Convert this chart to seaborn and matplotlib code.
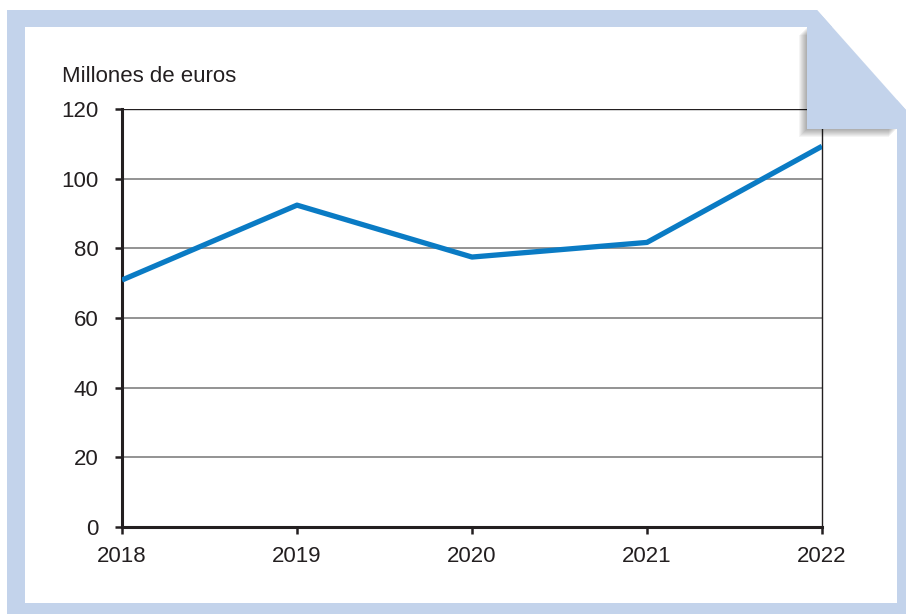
import pandas as pd
import matplotlib
matplotlib.use("Agg")
import matplotlib.pyplot as plt
import seaborn as sns
from matplotlib.patches import Polygon

# data
years = [2018, 2019, 2020, 2021, 2022]
values = [70.9, 92.4, 77.5, 81.7, 109.3]
yticks = [0, 20, 40, 60, 80, 100, 120]
ylabel = "Millones de euros"

data = pd.DataFrame({"year": years, "value": values})

sns.set_style("white")
plt.rcParams['font.family'] = ['Liberation Sans', 'DejaVu Sans']

W, H = 906, 614
fig = plt.figure(figsize=(W / 100, H / 100), dpi=100)
fig.patch.set_facecolor("white")

def px(x, y):
    return (x / W, 1 - y / H)

ax = fig.add_axes([122 / W, 1 - 527 / H, 700 / W, 418 / H])
sns.lineplot(data=data, x="year", y="value", ax=ax, color="#0A7BC4",
             linewidth=3.8, solid_capstyle="butt", zorder=5)

ax.set_xlim(years[0], years[-1])
ax.set_ylim(0, 120)
ax.set_xticks(years)
ax.set_yticks(yticks)
ax.set_xlabel("")
ax.set_ylabel("")

for y in yticks[1:-1]:
    ax.axhline(y, color="#8a8a8a", linewidth=1.3, zorder=1)
ax.axhline(120, color="#231F20", linewidth=1.0, zorder=1)

for s in ["left", "bottom"]:
    ax.spines[s].set_color("#231F20")
    ax.spines[s].set_linewidth(2.2)
ax.spines["right"].set_color("#231F20")
ax.spines["right"].set_linewidth(1.0)
ax.spines["top"].set_visible(False)

ax.tick_params(axis="both", which="both", direction="out", length=5, width=1.8,
               color="#231F20", labelsize=16, labelcolor="#231F20")
ax.tick_params(axis="y", pad=12, left=True)
ax.tick_params(axis="x", pad=9, bottom=True)

fig.text(*px(62, 82), ylabel, fontsize=16, color="#231F20", va="baseline", ha="left")

# frame with folded corner (hole follows the cut corner)
blue = "#C3D3EB"
outer = [px(7, 10), px(817, 10), px(906, 110), px(906, 614), px(7, 614)]
inner = [px(25, 27), px(25, 603), px(897, 603), px(897, 100), px(832, 27)]
frame = Polygon(outer + [outer[0]] + inner + [inner[0]], closed=True,
                transform=fig.transFigure, facecolor=blue, edgecolor="none", zorder=10)
fig.patches.append(frame)

# soft shadow under the fold
fold_core = [(807, 27), (807, 129), (897, 129), (897, 100), (832, 27)]
for off in range(8, 0, -1):
    pts = [px(x - off, y + off) for x, y in fold_core]
    fig.patches.append(Polygon(pts, closed=True, transform=fig.transFigure,
                               facecolor="black", alpha=0.045, edgecolor="none", zorder=11))

fold = [px(807, 10), px(817, 10), px(906, 110), px(906, 129), px(807, 129)]
fig.patches.append(Polygon(fold, closed=True, transform=fig.transFigure,
                           facecolor=blue, edgecolor="none", zorder=12))

fig.savefig("out.png", dpi=100)
